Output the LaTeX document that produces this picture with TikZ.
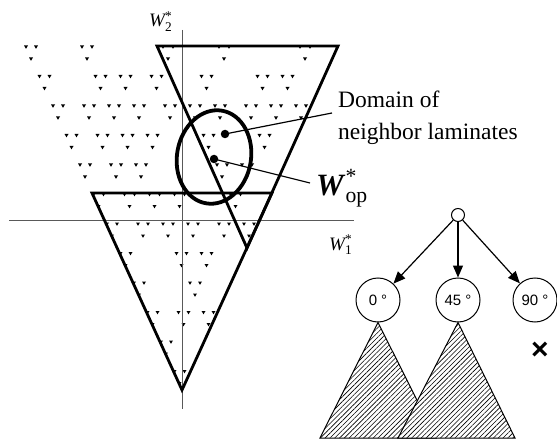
\documentclass[tikz,border=0pt]{standalone}
\usepackage{amsmath}
\usepackage{fontspec}
\setmainfont{Liberation Serif}
\newfontfamily\arialf{Liberation Sans}
\usetikzlibrary{arrows.meta,patterns.meta}
\newcommand\tripdot[2]{%
  \fill ({#1-7},{#2-1.5}) -- ({#1-3},{#2-1.5}) -- ({#1-5},{#2+1.8}) -- cycle;
  \fill ({#1+3},{#2-1.5}) -- ({#1+7},{#2-1.5}) -- ({#1+5},{#2+1.8}) -- cycle;
  \fill ({#1-2},{#2+10.5}) -- ({#1+2},{#2+10.5}) -- ({#1},{#2+13.8}) -- cycle;}
\tikzset{
  thickline/.style={line width=2.8pt, line join=miter},
  axisline/.style={line width=0.8pt, black!65},
  leaf/.style={circle, draw, line width=1pt, minimum size=44pt, inner sep=0pt, font=\arialf\fontsize{15}{17}\selectfont},
  treearrow/.style={line width=1.2pt, -{Triangle[length=12pt,width=10pt]}},
  hatchtri/.style={draw, line width=1pt, pattern={Lines[angle=45,distance=3.4pt,line width=0.6pt]}},
  bigdot/.style={circle, fill, inner sep=0pt, minimum size=8.5pt},
  leader/.style={line width=1.2pt},
}
\begin{document}
\begin{tikzpicture}[x=1pt,y=-1pt]
\useasboundingbox (0,0) rectangle (557,441);
% scattered feasible points
\foreach \r in {0,...,11}{
  \foreach \c in {0,...,12}{
    \pgfmathsetmacro\yy{47+29.5*\r}
    \pgfmathsetmacro\xx{33+13.5*\r+27*\c+2*mod(\r*3+\c*5,3)-2}
    \pgfmathsetmacro\ok{and(and(\xx+6<338-0.457*(\yy-46), \xx<338-0.457*(\yy-33)), mod(\r*\r*3+\c*\c*7+\r*\c*5+\c+\r,10)<5.5)}
    \ifdim\ok pt>0.5pt \tripdot{\xx}{\yy}\fi
  }
}
% axes
\coordinate (xa0) at (9,220);
\coordinate (xa1) at (354,220);
\coordinate (ya0) at (182,30);
\coordinate (ya1) at (182,409);
\draw[axisline] (xa0) -- (xa1);
\draw[axisline] (ya0) -- (ya1);
\node[anchor=base west, inner sep=0pt, font=\fontsize{19}{22}\selectfont] (w2) at (149,27) {$\textit{W}^{\text{*}}_{\text{2}}$};
\node[anchor=base west, inner sep=0pt, font=\fontsize{19}{22}\selectfont] (w1) at (329,250) {$\textit{W}^{\text{*}}_{\text{1}}$};
% triangles
\coordinate (ua) at (157,46);
\coordinate (ub) at (338,46);
\coordinate (uc) at (247,248);
\coordinate (la) at (92,193);
\coordinate (lb) at (272,193);
\coordinate (lc) at (182,390);
\draw[thickline] (ua) -- (ub) -- (uc) -- cycle;
\draw[thickline] (la) -- (lb) -- (lc) -- cycle;
% domain ellipse
\draw[line width=3.8pt] (214,157) ellipse [x radius=37, y radius=47, rotate=-10];
\node[bigdot] (d1) at (225,134) {};
\node[bigdot] (d2) at (214,159) {};
\coordinate (domtip) at (332,113);
\coordinate (optip) at (310,183);
\draw[leader] (d1.center) -- (domtip);
\draw[leader] (d2.center) -- (optip);
\node[anchor=north west, inner sep=0pt, align=left, font=\fontsize{23.5}{32}\selectfont] (dom) at (338,91) {Domain of\\neighbor laminates};
\node[anchor=base west, inner sep=0pt, font=\fontsize{31}{34}\selectfont] (wop) at (316,196) {$\textbf{\textit{W}}^{\text{*}}_{\text{op}}$};
% tree
\node[circle, draw, line width=1pt, minimum size=13pt, inner sep=0pt] (root) at (458,215) {};
\node[leaf] (c0) at (378,300) {0 °};
\node[leaf] (c45) at (458,300) {45 °};
\node[leaf] (c90) at (535,300) {90 °};
\draw[treearrow] (root) -- (c0);
\draw[treearrow] (root) -- (c45);
\draw[treearrow] (root) -- (c90);
\coordinate (t1l) at (320,438);
\coordinate (t1r) at (436,438);
\coordinate (t2l) at (398,438);
\coordinate (t2r) at (515,438);
\path[hatchtri] (c0.south) -- (t1r) -- (t1l) -- cycle;
\path[hatchtri, preaction={fill=white}] (c45.south) -- (t2r) -- (t2l) -- cycle;
\node[font=\arialf\bfseries\fontsize{30}{32}\selectfont, inner sep=0pt] (cross) at (540,351) {×};
\end{tikzpicture}
\end{document}
